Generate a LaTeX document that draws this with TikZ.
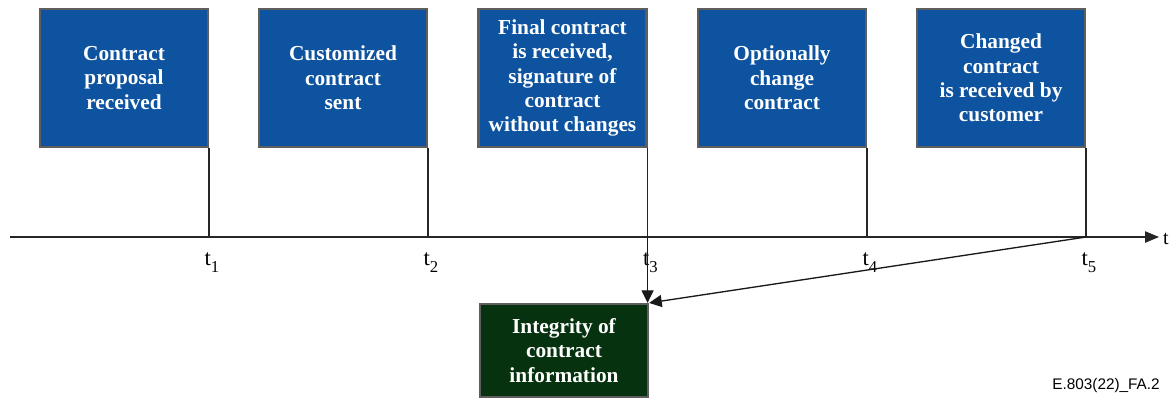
\documentclass[tikz,border=0pt]{standalone}
\usepackage{fontspec}
\setmainfont{Liberation Serif}
\newfontfamily\figsans{Liberation Sans}
\usetikzlibrary{arrows.meta,positioning}
\definecolor{stepblue}{HTML}{0E53A0}
\definecolor{resultgreen}{HTML}{06320F}
\definecolor{boxrim}{HTML}{5E5E5E}
\newcommand{\tsub}[1]{t\raisebox{-0.3em}{\fontsize{12.5}{12.5}\selectfont #1}}
\tikzset{
  event/.style={draw=boxrim, line width=1.6pt, fill=stepblue, text=white,
    font=\bfseries\fontsize{16}{18.3}\selectfont, align=center,
    minimum width=126pt, minimum height=103.5pt, inner sep=0pt},
  result/.style={event, fill=resultgreen, minimum height=69.75pt},
  axisline/.style={line width=1pt, draw=black!85, -{Triangle[length=10.5pt,width=8.5pt]}},
  tick/.style={line width=1pt, draw=black!85},
  flow/.style={line width=1pt, draw=black!90, -{Triangle[length=9.5pt,width=9pt]}},
  tlabel/.style={font=\fontsize{17}{17}\selectfont, inner sep=0pt, anchor=north west, xshift=-3.5pt}
}
\begin{document}
\begin{tikzpicture}[x=0.75pt, y=-0.75pt]
\useasboundingbox (0,0) rectangle (1173,401);
% events along the time line
\node[event] (recv) at (124,78) {Contract\\proposal\\received};
\node[event] (sent) at (343,78) {Customized\\contract\\sent};
\node[event] (final) at (562.5,78) {Final contract\\is received,\\signature of\\contract\\without changes};
\node[event] (option) at (782,78) {Optionally\\change\\contract};
\node[event] (changed) at (1001,78) {Changed\\contract\\is received by\\customer};
\node[result] (integrity) at (564,350.5) {Integrity of\\contract\\information};
% time axis
\coordinate (start) at (10,237);
\coordinate (end) at (1159,237);
\draw[axisline] (start) -- (end) node[right, inner sep=2.5pt, yshift=-1.5pt, font=\fontsize{15}{15}\selectfont] (tname) {t};
\foreach \b/\i in {recv/1,sent/2,final/3,option/4,changed/5} {
  \coordinate (t\i) at (\b.south east |- start);
  \draw[tick] (\b.south east) -- (t\i);
  \node[tlabel] (lab\i) at ([yshift=-11.5pt]t\i) {\tsub{\i}};
}
\draw[flow] (t3) -- (t3 |- integrity.north);
\draw[flow] (t5) -- (integrity.north east);
\node[anchor=south east, inner sep=0pt, font=\figsans\fontsize{11.5}{12}\selectfont] (figno) at (1160,393) {E.803(22)\_FA.2};
\end{tikzpicture}
\end{document}
